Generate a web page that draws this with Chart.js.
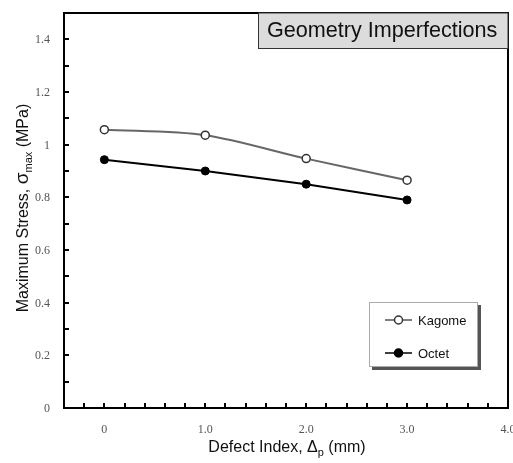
<!DOCTYPE html>
<html>
<head>
<meta charset="utf-8">
<script src="https://cdn.jsdelivr.net/npm/chart.js@4"></script>
<style>
  html, body { margin: 0; padding: 0; background: #fff; }
  #wrap { width: 513px; height: 463px; }
</style>
</head>
<body>
<div id="wrap"><canvas id="myChart" width="513" height="463"></canvas></div>
<script>
// data
let defectIndex = [0, 1, 2, 3];
let kagome = [1.057, 1.036, 0.947, 0.865];
let octet = [0.943, 0.900, 0.850, 0.790];
let xTicks = [0, 1, 2, 3, 4];
let xTickLabels = ['0', '1.0', '2.0', '3.0', '4.0'];
let yTicks = [0, 0.2, 0.4, 0.6, 0.8, 1, 1.2, 1.4];
let yTickLabels = ['0', '0.2', '0.4', '0.6', '0.8', '1', '1.2', '1.4'];

const sansFont = '"Liberation Sans", Arial, sans-serif';
const serifFont = '"Liberation Serif", "Times New Roman", serif';

// draws text pieces one after another, some of them lowered as subscripts
function drawRich(ctx, parts, x, y, align) {
  let total = 0;
  parts.forEach(p => { ctx.font = p.size + 'px ' + sansFont; total += ctx.measureText(p.text).width; });
  let cx = align === 'center' ? x - total / 2 : x;
  ctx.textAlign = 'left';
  ctx.textBaseline = 'alphabetic';
  parts.forEach(p => {
    ctx.font = p.size + 'px ' + sansFont;
    ctx.fillText(p.text, cx, y + (p.dy || 0));
    cx += ctx.measureText(p.text).width;
  });
}

function marker(ctx, x, y, filled) {
  ctx.beginPath();
  ctx.arc(x, y, 4, 0, Math.PI * 2);
  ctx.fillStyle = filled ? '#000' : '#fff';
  ctx.fill();
  ctx.lineWidth = 1.5;
  ctx.strokeStyle = filled ? '#000' : '#333';
  ctx.stroke();
}

const decorations = {
  id: 'decorations',
  afterDatasetsDraw(chart) {
    const ctx = chart.ctx;
    const a = chart.chartArea;
    const xs = chart.scales.x, ys = chart.scales.y;
    ctx.save();

    // tick labels
    ctx.fillStyle = '#555';
    ctx.font = '12px ' + serifFont;
    ctx.textAlign = 'right';
    ctx.textBaseline = 'middle';
    yTicks.forEach((v, i) => ctx.fillText(yTickLabels[i], a.left - 14, ys.getPixelForValue(v) + 1));
    ctx.textAlign = 'center';
    xTicks.forEach((v, i) => ctx.fillText(xTickLabels[i], xs.getPixelForValue(v), a.bottom + 22));

    // inner tick marks
    ctx.strokeStyle = '#000';
    ctx.lineWidth = 2;
    ctx.beginPath();
    for (let i = 1; i < 15; i++) {
      const py = Math.round(ys.getPixelForValue(i / 10));
      ctx.moveTo(a.left, py); ctx.lineTo(a.left + 5, py);
    }
    for (let i = -1; i < 20; i++) {
      const px = Math.round(xs.getPixelForValue(i / 5));
      ctx.moveTo(px, a.bottom); ctx.lineTo(px, a.bottom - 5);
    }
    ctx.stroke();

    // frame
    ctx.lineWidth = 2;
    ctx.strokeStyle = '#000';
    ctx.strokeRect(a.left, a.top, a.right - a.left, a.bottom - a.top);

    // title box
    ctx.fillStyle = '#dcdcdc';
    ctx.fillRect(258, a.top, a.right - 258, 35);
    ctx.lineWidth = 1;
    ctx.strokeStyle = '#333';
    ctx.strokeRect(258.5, a.top, a.right - 258.5, 35.5);
    ctx.fillStyle = '#111';
    ctx.font = '21.6px ' + sansFont;
    ctx.textAlign = 'left';
    ctx.textBaseline = 'alphabetic';
    ctx.fillText('Geometry Imperfections', 267, 37);

    // legend
    ctx.fillStyle = '#555';
    ctx.fillRect(372, 305, 109, 65);
    ctx.fillStyle = '#fff';
    ctx.fillRect(369, 302, 109, 65);
    ctx.strokeStyle = '#aaa';
    ctx.strokeRect(369.5, 302.5, 108, 64);
    const items = [
      { label: 'Kagome', color: '#555', filled: false, y: 320 },
      { label: 'Octet', color: '#000', filled: true, y: 353 }
    ];
    items.forEach(it => {
      ctx.strokeStyle = it.color;
      ctx.lineWidth = 1.5;
      ctx.beginPath(); ctx.moveTo(385, it.y); ctx.lineTo(412, it.y); ctx.stroke();
      marker(ctx, 398.5, it.y, it.filled);
      ctx.fillStyle = '#111';
      ctx.font = '13px ' + sansFont;
      ctx.textBaseline = 'middle';
      ctx.fillText(it.label, 418, it.y + 1);
    });

    // axis titles
    ctx.fillStyle = '#111';
    drawRich(ctx, [
      { text: 'Defect Index, ', size: 16 },
      { text: '\u0394', size: 16 },
      { text: 'p', size: 11, dy: 4 },
      { text: ' (mm)', size: 16 }
    ], 287, 452, 'center');

    ctx.translate(28, 208);
    ctx.rotate(-Math.PI / 2);
    drawRich(ctx, [
      { text: 'Maximum Stress, ', size: 16 },
      { text: '\u03c3', size: 19 },
      { text: 'max', size: 11, dy: 4 },
      { text: ' (MPa)', size: 16 }
    ], 0, 0, 'center');

    ctx.restore();
  }
};

let myChart = new Chart(document.getElementById('myChart').getContext('2d'), {
  type: 'line',
  data: {
    datasets: [{
      label: 'Kagome',
      data: defectIndex.map((x, i) => ({ x: x, y: kagome[i] })),
      borderColor: '#666',
      borderWidth: 2,
      tension: 0.3,
      pointRadius: 4,
      pointBackgroundColor: '#fff',
      pointBorderColor: '#333',
      pointBorderWidth: 1.5
    }, {
      label: 'Octet',
      data: defectIndex.map((x, i) => ({ x: x, y: octet[i] })),
      borderColor: '#000',
      borderWidth: 2,
      tension: 0,
      pointRadius: 4,
      pointBackgroundColor: '#000',
      pointBorderColor: '#000',
      pointBorderWidth: 1
    }]
  },
  options: {
    responsive: false,
    animation: false,
    layout: {
      autoPadding: false,
      padding: { left: 64, top: 13, right: 5, bottom: 55 }
    },
    scales: {
      x: { type: 'linear', display: false, min: -0.4, max: 4.0 },
      y: { type: 'linear', display: false, min: 0, max: 1.5 }
    },
    plugins: {
      legend: { display: false },
      tooltip: { enabled: false }
    }
  },
  plugins: [decorations]
});
</script>
</body>
</html>
